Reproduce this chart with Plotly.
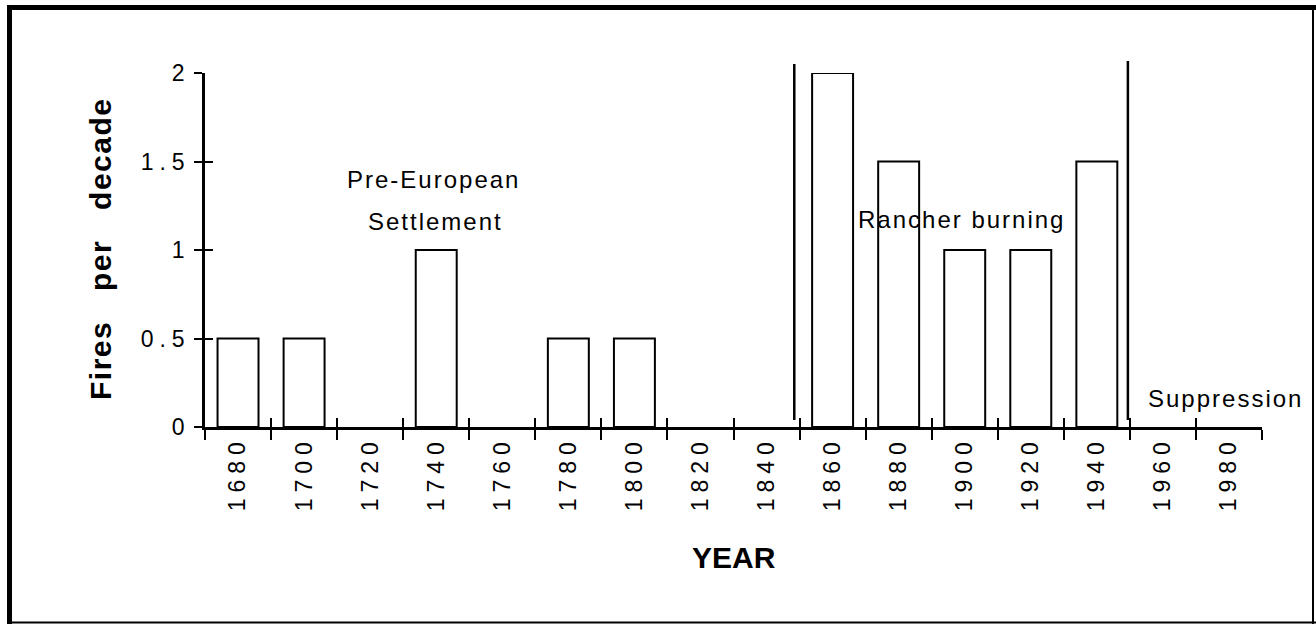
import plotly.graph_objects as go

# ---- data ----
years = ["1680", "1700", "1720", "1740", "1760", "1780", "1800", "1820",
         "1840", "1860", "1880", "1900", "1920", "1940", "1960", "1980"]
fires_per_decade = [0.5, 0.5, 0, 1, 0, 0.5, 0.5, 0, 0, 2, 1.5, 1, 1, 1.5, 0, 0]
y_ticks = [0, 0.5, 1, 1.5, 2]
y_tick_labels = ["0", "0.5", "1", "1.5", "2"]
period_boundaries = [8.42, 13.47]   # category-index positions of the era dividers
period_labels = ["Pre-European", "Settlement", "Rancher burning", "Suppression"]

FONT = "Liberation Sans, Arial, Helvetica, sans-serif"
W, H = 1316, 624
L, R, T, B = 205, 54, 73, 197
PW, PH = W - L - R, H - T - B


def px_x(px):
    return (px - L) / PW


def px_y(py):
    return (H - B - py) / PH


fig = go.Figure()
fig.add_trace(go.Bar(
    x=years, y=fires_per_decade, width=0.62,
    marker=dict(color="white",
                line=dict(color="black", width=[2 if v > 0 else 0 for v in fires_per_decade])),
    hoverinfo="x+y", showlegend=False,
))
# invisible trace to carry the overlay axes (inside half of crossing ticks)
fig.add_trace(go.Scatter(
    x=years, y=fires_per_decade, xaxis="x2", yaxis="y2", mode="markers",
    marker=dict(size=1, opacity=0), hoverinfo="skip", showlegend=False,
))

fig.update_layout(
    width=W, height=H, autosize=False,
    margin=dict(l=L, r=R, t=T, b=B, pad=0),
    paper_bgcolor="white", plot_bgcolor="white",
    font=dict(family=FONT, color="black", size=22),
    xaxis=dict(
        type="category", categoryorder="array", categoryarray=years,
        range=[-0.5, len(years) - 0.5], tickson="boundaries",
        ticks="outside", ticklen=10, tickwidth=2, tickcolor="black",
        showline=True, linecolor="black", linewidth=3,
        showgrid=False, zeroline=False, tickangle=-90,
        ticklabelstandoff=-3,
        tickfont=dict(family=FONT, size=23, color="black"),
        fixedrange=True,
    ),
    yaxis=dict(
        range=[0, 2], tickvals=y_ticks, ticktext=y_tick_labels,
        ticks="outside", ticklen=8, tickwidth=2, tickcolor="black",
        showline=True, linecolor="black", linewidth=2.5,
        showgrid=False, zeroline=False, ticklabelstandoff=-1,
        tickfont=dict(family=FONT, size=23, color="black"),
        fixedrange=True,
    ),
    xaxis2=dict(
        type="category", categoryorder="array", categoryarray=years,
        range=[-0.5, len(years) - 0.5], tickson="boundaries",
        overlaying="x", anchor="y", side="bottom",
        ticks="inside", ticklen=9, tickwidth=2, tickcolor="black",
        showticklabels=False, showline=False, showgrid=False, zeroline=False,
        fixedrange=True,
    ),
    yaxis2=dict(
        range=[0, 2], tickvals=y_ticks, overlaying="y", anchor="x", side="left",
        ticks="inside", ticklen=8, tickwidth=2, tickcolor="black",
        showticklabels=False, showline=False, showgrid=False, zeroline=False,
        fixedrange=True,
    ),
)

shapes = []
# era divider lines
for xb, ytop in zip(period_boundaries, [px_y(64), px_y(61)]):
    shapes.append(dict(type="line", xref="x", yref="paper", x0=xb, x1=xb,
                       y0=px_y(420), y1=ytop, line=dict(color="black", width=2.5)))
# outer frame (thick top/left, thin right/bottom)
shapes += [
    dict(type="line", xref="paper", yref="paper", x0=px_x(9.5), x1=px_x(9.5),
         y0=px_y(5), y1=px_y(624), line=dict(color="black", width=5)),
    dict(type="line", xref="paper", yref="paper", x0=px_x(7), x1=px_x(1316),
         y0=px_y(7.5), y1=px_y(7.5), line=dict(color="black", width=5)),
    dict(type="line", xref="paper", yref="paper", x0=px_x(1313), x1=px_x(1313),
         y0=px_y(5), y1=px_y(624), line=dict(color="black", width=2)),
    dict(type="line", xref="paper", yref="paper", x0=px_x(7), x1=px_x(1316),
         y0=px_y(622.5), y1=px_y(622.5), line=dict(color="black", width=2)),
]
fig.update_layout(shapes=shapes)

ann_font = dict(family=FONT, size=24, color="black")
annotations = [
    dict(text=period_labels[0], x=px_x(433), y=px_y(179), xanchor="center", yanchor="middle"),
    dict(text=period_labels[1], x=px_x(435), y=px_y(221), xanchor="center", yanchor="middle"),
    dict(text=period_labels[2], x=px_x(871), y=px_y(219), xanchor="left", yanchor="middle"),
    dict(text=period_labels[3], x=px_x(1157), y=px_y(398), xanchor="left", yanchor="middle"),
]
for a in annotations:
    a.update(xref="paper", yref="paper", showarrow=False, font=ann_font)
annotations.append(dict(text="<b>YEAR</b>", x=px_x(734), y=px_y(557), xref="paper", yref="paper",
                        xanchor="center", yanchor="middle", showarrow=False,
                        font=dict(family=FONT, size=30, color="black")))
annotations.append(dict(text="<b>Fires per decade</b>", x=px_x(100), y=px_y(249), xref="paper",
                        yref="paper", xanchor="center", yanchor="middle", textangle=-90,
                        showarrow=False, font=dict(family=FONT, size=30, color="black")))
fig.update_layout(annotations=annotations)

css = ("html,body{margin:0;padding:0;}"
       " .xtick text, .ytick text{letter-spacing:6px;}"
       " .annotation-text{letter-spacing:2px;}"
       " text[data-unformatted='<b>YEAR</b>']{letter-spacing:0px;}"
       " text[data-unformatted='<b>Fires per decade</b>']{letter-spacing:1.5px; word-spacing:20px;}")
post = ("var s=document.createElement('style');s.textContent=" + repr(css) +
        ";document.head.appendChild(s);")

fig.write_html("out.html", post_script=post, config={"displayModeBar": False})
